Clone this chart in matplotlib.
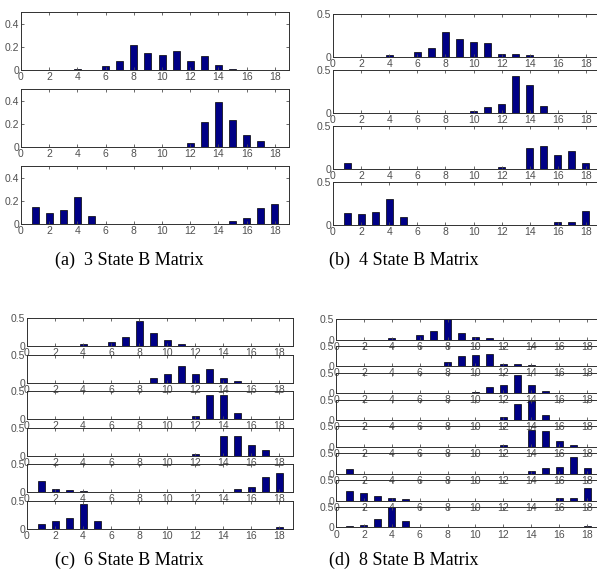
import numpy as np
import matplotlib.pyplot as plt

# --- data: emission probabilities per state, symbols 1..18 ---
symbols = np.arange(1, 19)

b_3state = [
    [0, 0, 0, 0.01, 0, 0.035, 0.075, 0.215, 0.15, 0.13, 0.165, 0.075, 0.125, 0.04, 0.012, 0, 0, 0],
    [0, 0, 0, 0, 0, 0, 0, 0, 0, 0, 0, 0.035, 0.215, 0.39, 0.23, 0.1, 0.055, 0],
    [0.15, 0.095, 0.12, 0.23, 0.065, 0, 0, 0, 0, 0, 0, 0, 0, 0, 0.03, 0.05, 0.135, 0.175],
]
b_4state = [
    [0, 0, 0, 0.02, 0, 0.055, 0.11, 0.29, 0.21, 0.17, 0.16, 0.04, 0.04, 0.02, 0, 0, 0, 0],
    [0, 0, 0, 0, 0, 0, 0, 0, 0, 0.02, 0.07, 0.11, 0.43, 0.33, 0.08, 0, 0, 0],
    [0.067, 0, 0, 0, 0, 0, 0, 0, 0, 0, 0, 0.02, 0, 0.24, 0.27, 0.165, 0.21, 0.075],
    [0.137, 0.125, 0.152, 0.305, 0.09, 0, 0, 0, 0, 0, 0, 0, 0, 0, 0, 0.03, 0.04, 0.16],
]
b_6state = [
    [0, 0, 0, 0.03, 0, 0.067, 0.16, 0.445, 0.24, 0.1, 0.035, 0, 0, 0, 0, 0, 0, 0],
    [0, 0, 0, 0, 0, 0, 0, 0, 0.083, 0.16, 0.3, 0.16, 0.25, 0.083, 0.03, 0, 0, 0],
    [0, 0, 0, 0, 0, 0, 0, 0, 0, 0, 0, 0.066, 0.44, 0.44, 0.108, 0, 0, 0],
    [0, 0, 0, 0, 0, 0, 0, 0, 0, 0, 0, 0.025, 0, 0.355, 0.355, 0.19, 0.1, 0],
    [0.2, 0.06, 0.04, 0.03, 0, 0, 0, 0, 0, 0, 0, 0, 0, 0, 0.06, 0.095, 0.27, 0.34],
    [0.095, 0.14, 0.2, 0.45, 0.137, 0, 0, 0, 0, 0, 0, 0, 0, 0, 0, 0, 0, 0.035],
]
b_8state = [
    [0, 0, 0, 0.03, 0, 0.1, 0.215, 0.5, 0.15, 0.065, 0.033, 0, 0, 0, 0, 0, 0, 0],
    [0, 0, 0, 0, 0, 0, 0, 0.1, 0.25, 0.27, 0.29, 0.065, 0.065, 0.03, 0, 0, 0, 0],
    [0, 0, 0, 0, 0, 0, 0, 0, 0, 0.04, 0.145, 0.2, 0.45, 0.2, 0.065, 0, 0, 0],
    [0, 0, 0, 0, 0, 0, 0, 0, 0, 0, 0, 0.065, 0.39, 0.47, 0.13, 0, 0, 0],
    [0, 0, 0, 0, 0, 0, 0, 0, 0, 0, 0, 0.04, 0, 0.42, 0.4, 0.153, 0.04, 0],
    [0.11, 0, 0, 0, 0, 0, 0, 0, 0, 0, 0, 0, 0, 0.055, 0.143, 0.167, 0.405, 0.135],
    [0.226, 0.19, 0.105, 0.056, 0.03, 0, 0, 0, 0, 0, 0, 0, 0, 0, 0, 0.056, 0.07, 0.306],
    [0.04, 0.056, 0.2, 0.49, 0.153, 0, 0, 0, 0, 0, 0, 0, 0, 0, 0, 0, 0, 0.03],
]
captions = ['(a)  3 State B Matrix', '(b)  4 State B Matrix',
            '(c)  6 State B Matrix', '(d)  8 State B Matrix']

W, H = 597, 580
plt.rcParams['font.family'] = ['Liberation Sans', 'DejaVu Sans']
fig = plt.figure(figsize=(W / 100, H / 100), dpi=100)

# panel layout in pixels: left, right, first top, row step, row height
panels = [
    (b_3state, 21, 289, 12, 77, 58, [0, 0.2, 0.4]),
    (b_4state, 333, 600, 14, 56, 43, [0, 0.5]),
    (b_6state, 27, 293, 318, 36.6, 28, [0, 0.5]),
    (b_8state, 336, 601, 319, 26.85, 20.5, [0, 0.5]),
]

tick_col = '#505050'
for mat, left, right, top0, step, h, yt in panels:
    for i, row in enumerate(mat):
        top = top0 + i * step
        ax = fig.add_axes([left / W, 1 - (top + h) / H, (right - left) / W, h / H])
        ax.set_facecolor('none')
        ax.bar(symbols, row, width=0.5, color='#000085', edgecolor='black', linewidth=0.5)
        ax.set_xlim(0, 19)
        ax.set_ylim(0, 0.5)
        ax.set_xticks(range(0, 19, 2))
        ax.set_yticks(yt)
        ax.set_yticklabels(['%g' % v for v in yt])
        ax.tick_params(direction='in', top=True, right=True, length=2.5, width=0.6,
                       labelsize=7.5, colors=tick_col, pad=1.5)
        for s in ax.spines.values():
            s.set_color('#303030')
            s.set_linewidth(0.7)

cap_pos = [(129, 260), (404, 260), (129, 560), (404, 560)]
for txt, (cx, cy) in zip(captions, cap_pos):
    fig.text(cx / W, 1 - cy / H, txt, ha='center', va='center',
             family='Liberation Serif', fontsize=13)

fig.savefig('out.png', dpi=100)
